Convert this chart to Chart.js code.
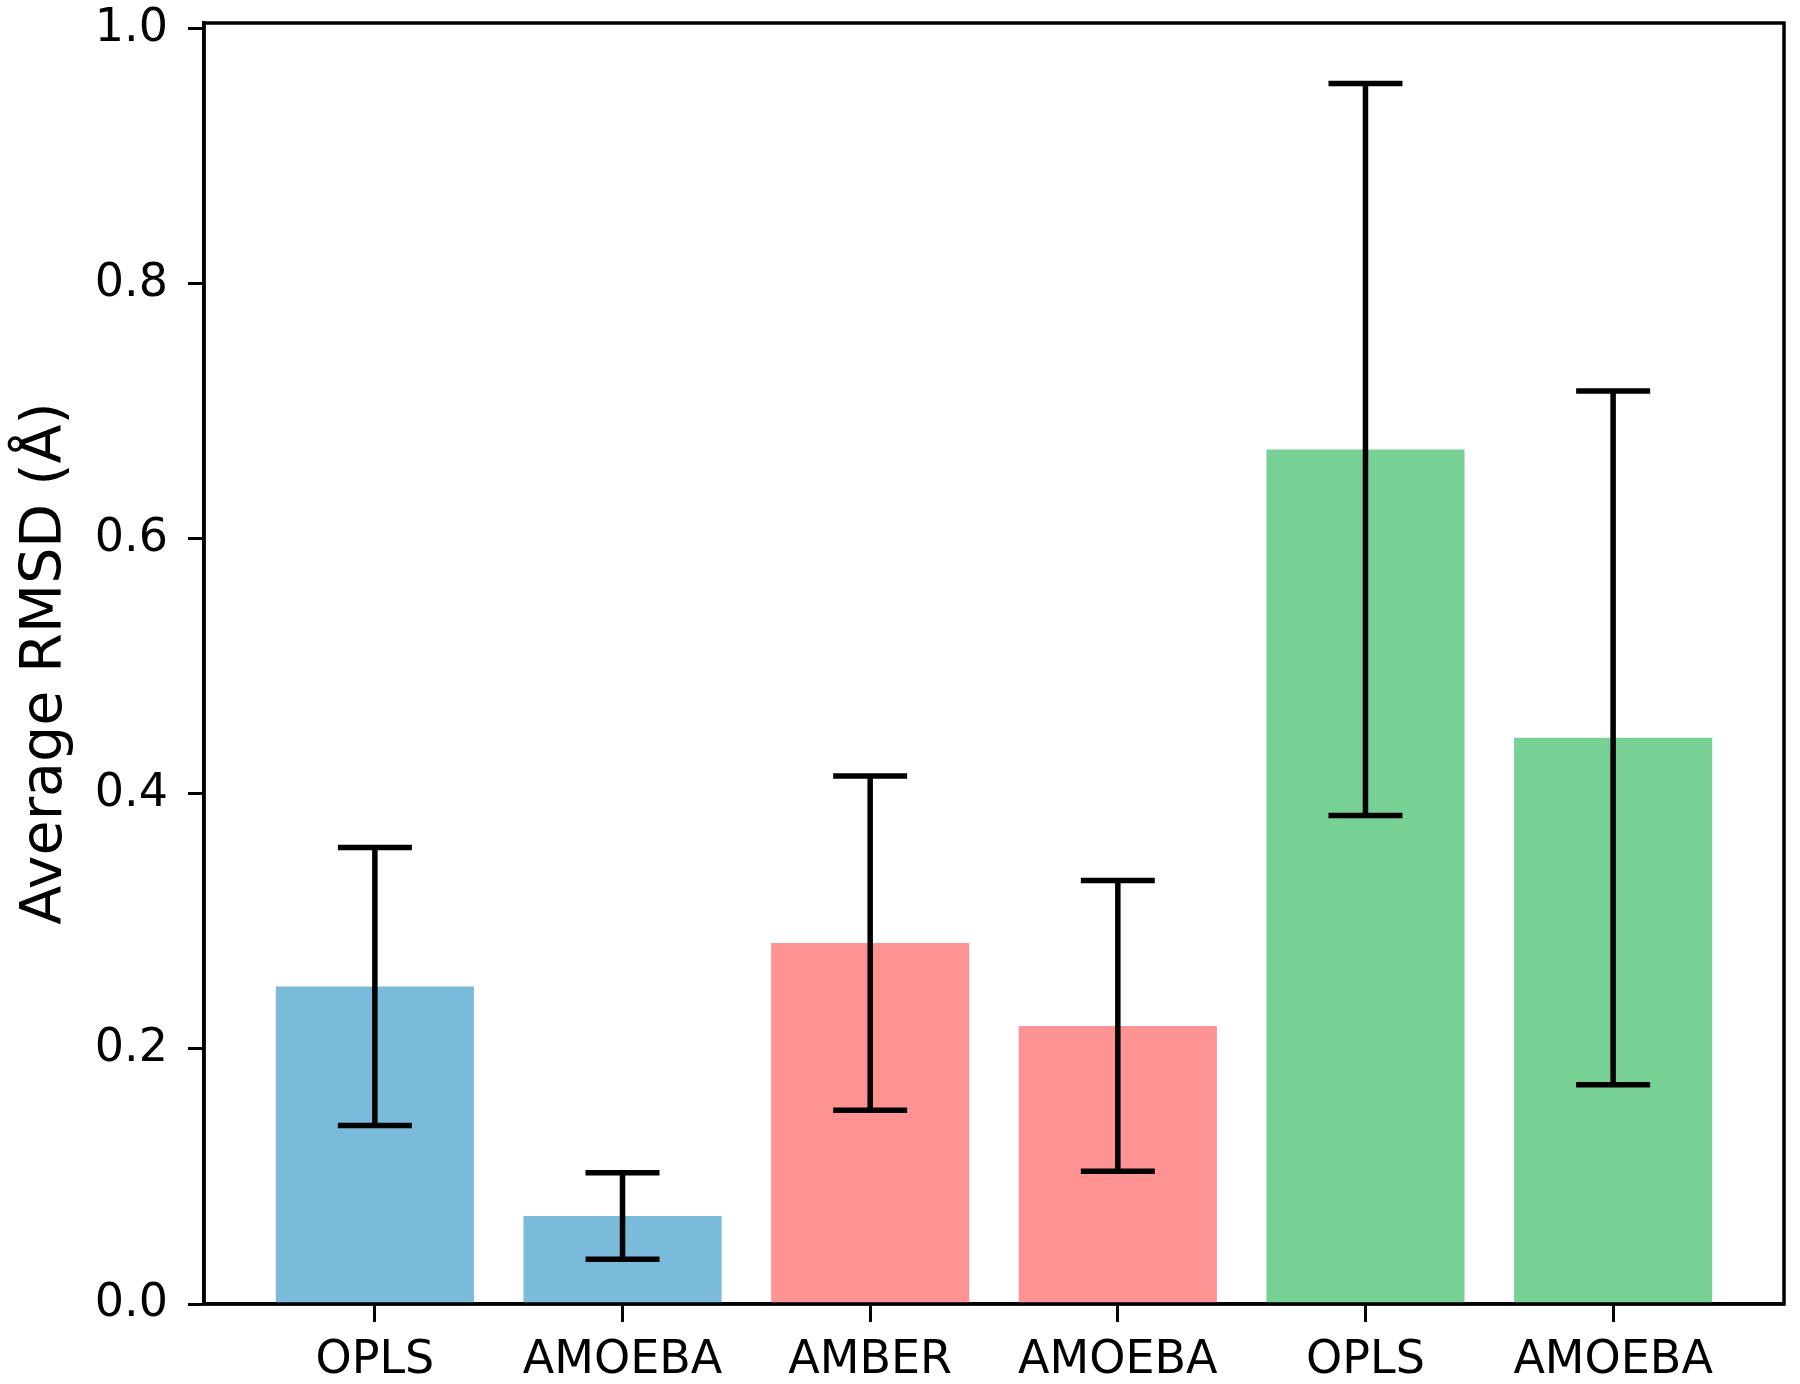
<!DOCTYPE html>
<html>
<head>
<meta charset="utf-8">
<script src="https://cdn.jsdelivr.net/npm/chart.js@4"></script>
<style>
  html, body { margin: 0; padding: 0; background: #fff; }
  #wrap { width: 1800px; height: 1384px; position: relative; }
</style>
</head>
<body>
<div id="wrap"><canvas id="rmsdChart"></canvas></div>
<script>
// categories and values
const labels = ['OPLS', 'AMOEBA', 'AMBER', 'AMOEBA', 'OPLS', 'AMOEBA'];
const means = [0.249, 0.069, 0.283, 0.218, 0.670, 0.444];
const errors = [0.109, 0.034, 0.131, 0.114, 0.287, 0.272];
const barColors = ['#7abadb', '#7abadb', '#ff9393', '#ff9393', '#77d195', '#77d195'];
const yTicks = [0, 0.2, 0.4, 0.6, 0.8, 1.0];

const FONT = "'DejaVu Sans', sans-serif";

// error bars drawn from the scales
const errorBars = {
    id: 'errorBars',
    afterDatasetsDraw(chart) {
        const { ctx, scales: { x, y } } = chart;
        ctx.save();
        ctx.strokeStyle = '#000';
        ctx.lineWidth = 5.5;
        ctx.lineCap = 'butt';
        means.forEach((m, i) => {
            const px = x.getPixelForValue(i);
            const top = y.getPixelForValue(m + errors[i]);
            const bot = y.getPixelForValue(m - errors[i]);
            ctx.beginPath();
            ctx.moveTo(px, top);
            ctx.lineTo(px, bot);
            ctx.moveTo(px - 37, top);
            ctx.lineTo(px + 37, top);
            ctx.moveTo(px - 37, bot);
            ctx.lineTo(px + 37, bot);
            ctx.stroke();
        });
        ctx.restore();
    }
};

// box around the plot area (top and right spines)
const frame = {
    id: 'frame',
    afterDraw(chart) {
        const { ctx, chartArea: a } = chart;
        ctx.save();
        ctx.strokeStyle = '#000';
        ctx.lineWidth = 3.5;
        ctx.strokeRect(a.left, a.top, a.right - a.left, a.bottom - a.top);
        ctx.restore();
    }
};

new Chart(document.getElementById('rmsdChart'), {
    type: 'bar',
    data: {
        datasets: [{
            data: means.map((m, i) => ({ x: i, y: m })),
            backgroundColor: barColors,
            borderWidth: 0,
            barPercentage: 0.8,
            categoryPercentage: 1.0
        }]
    },
    options: {
        responsive: true,
        maintainAspectRatio: false,
        animation: false,
        layout: { padding: { left: 0, right: 16, top: 23, bottom: 0 } },
        plugins: { legend: { display: false }, tooltip: { enabled: false } },
        scales: {
            x: {
                type: 'linear',
                offset: false,
                min: -0.69,
                max: 5.69,
                afterBuildTicks: s => { s.ticks = labels.map((_, i) => ({ value: i })); },
                afterFit: s => { s.height = 80; s.paddingLeft = 0; s.paddingRight = 0; },
                ticks: {
                    autoSkip: false,
                    maxRotation: 0,
                    padding: 11,
                    color: '#000',
                    font: { family: FONT, size: 46 },
                    callback: v => labels[v]
                },
                grid: { offset: false, drawOnChartArea: false, tickLength: 18, tickWidth: 3, tickColor: '#000' },
                border: { color: '#000', width: 3.5 }
            },
            y: {
                min: 0,
                max: 1.0045,
                afterBuildTicks: s => { s.ticks = yTicks.map(v => ({ value: v })); },
                afterFit: s => { s.width = 204; s.paddingTop = 0; s.paddingBottom = 0; },
                ticks: {
                    padding: 20,
                    color: '#000',
                    font: { family: FONT, size: 46 },
                    callback: v => v.toFixed(1)
                },
                grid: { drawOnChartArea: false, tickLength: 16, tickWidth: 3, tickColor: '#000' },
                border: { color: '#000', width: 3.5 },
                title: {
                    display: true,
                    text: 'Average RMSD (Å)',
                    color: '#000',
                    font: { family: FONT, size: 57 },
                    padding: { top: 12, bottom: 0 }
                }
            }
        }
    },
    plugins: [errorBars, frame]
});
</script>
</body>
</html>
